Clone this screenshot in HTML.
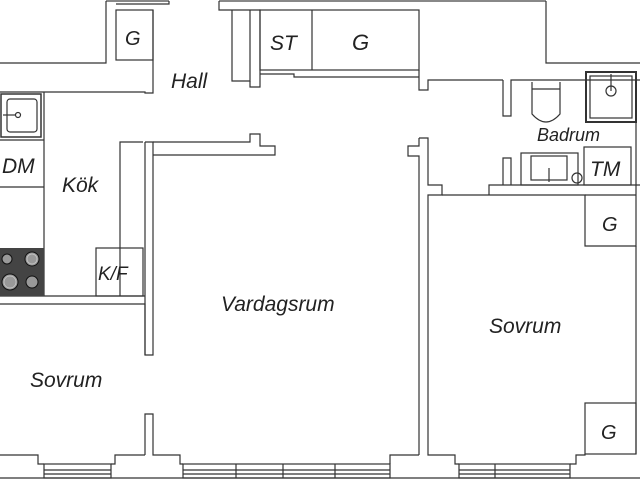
<!DOCTYPE html>
<html><head><meta charset="utf-8"><style>
html,body{margin:0;padding:0;background:#fff;}
svg{display:block}
text{font-family:"Liberation Sans",sans-serif;font-style:italic;fill:#222;}
</style></head><body>
<svg width="640" height="480" viewBox="0 0 640 480" xmlns="http://www.w3.org/2000/svg">
<g fill="none" stroke="#333" stroke-width="1.2">
<line x1="106" y1="1" x2="169" y2="1" stroke="#888" stroke-width="2"/>
<line x1="219" y1="1" x2="546" y2="1" stroke="#888" stroke-width="2"/>
<polyline points="106,1 106,63 0,63"/>
<polyline points="169,1 169,4 116,4"/>
<polyline points="219,1 219,10 250,10"/>
<rect x="116" y="10" width="37" height="50"/>
<polyline points="0,92 145,92 145,93 153,93 153,10"/>
<polyline points="546,1 546,63 640,63"/>
<polyline points="232,10 232,81 250,81 250,10"/>
<polyline points="250,10 260,10 260,87 250,87 250,81"/>
<rect x="260" y="10" width="159" height="60"/>
<line x1="312" y1="10" x2="312" y2="70"/>
<polyline points="260,74 294,74 294,77 419,77"/>
<polyline points="419,70 419,90 428,90 428,80 503,80"/>
<polyline points="503,80 503,116 511,116 511,80 640,80"/>
<rect x="586" y="72" width="50" height="50" stroke-width="2"/>
<rect x="590" y="76" width="42" height="42"/>
<circle cx="611" cy="91" r="5"/>
<line x1="611" y1="74" x2="611" y2="91"/>
<path d="M532,82 V114 Q546,130 560,114 V82"/>
<line x1="532" y1="89" x2="560" y2="89"/>
<rect x="521" y="153" width="57" height="32"/>
<rect x="531" y="156" width="36" height="24"/>
<line x1="549" y1="168" x2="549" y2="182"/>
<circle cx="577" cy="178" r="5"/>
<rect x="584" y="147" width="47" height="38"/>
<polyline points="503,185 503,158 511,158 511,185"/>
<polyline points="489,195 489,185 640,185"/>
<polyline points="442,195 585,195 585,246 636,246 636,80"/>
<line x1="585" y1="195" x2="636" y2="195"/>
<polyline points="145,142 153,142 153,355 145,355 145,142"/>
<polyline points="153,142 250,142 250,134 260,134 260,146 275,146 275,155 153,155"/>
<polyline points="419,138 428,138 428,185 442,185 442,195 428,195 428,450"/>
<polyline points="419,138 419,146 408,146 408,156 419,156 419,455"/>
<line x1="44" y1="92" x2="44" y2="296"/>
<rect x="1" y="94" width="40" height="43" stroke-width="1.5"/>
<rect x="7" y="99" width="30" height="33" rx="3"/>
<circle cx="18" cy="115" r="2.5"/>
<line x1="3" y1="115" x2="15" y2="115"/>
<line x1="0" y1="140" x2="44" y2="140"/>
<line x1="0" y1="187" x2="44" y2="187"/>
<polyline points="120,296 120,142 143,142"/>
<rect x="96" y="248" width="47" height="48"/>
<line x1="0" y1="296" x2="145" y2="296"/>
<polyline points="0,304 145,304 145,355"/>
<rect x="585" y="403" width="51" height="51"/>
<polyline points="636,246 636,454"/>
<polyline points="145,455 145,414 153,414 153,455 180,455 180,464 183,464"/>
<polyline points="0,455 38,455 38,464 44,464"/>
<polyline points="111,464 115,464 115,455 145,455"/>
<polyline points="390,464 390,455 419,455"/>
<polyline points="428,450 428,455 455,455 455,464 459,464"/>
<polyline points="570,464 576,464 576,455 585,455 585,454"/>
<line x1="0" y1="478" x2="640" y2="478"/>
<rect x="44" y="464" width="67" height="14"/>
<line x1="44" y1="470" x2="111" y2="470"/><line x1="44" y1="474" x2="111" y2="474"/>
<rect x="183" y="464" width="207" height="14"/>
<line x1="183" y1="470" x2="390" y2="470"/><line x1="183" y1="474" x2="390" y2="474"/>
<line x1="236" y1="464" x2="236" y2="478"/><line x1="283" y1="464" x2="283" y2="478"/><line x1="335" y1="464" x2="335" y2="478"/>
<rect x="459" y="464" width="111" height="14"/>
<line x1="459" y1="470" x2="570" y2="470"/><line x1="459" y1="474" x2="570" y2="474"/>
<line x1="495" y1="464" x2="495" y2="478"/>
</g>
<rect x="0" y="248" width="44" height="48" fill="#444"/>
<g fill="#999" stroke="#111" stroke-width="1">
<circle cx="7" cy="259" r="5"/><circle cx="32" cy="259" r="7"/>
<circle cx="10" cy="282" r="8"/><circle cx="32" cy="282" r="6"/>
</g>
<g fill="none" stroke="#ccc" stroke-width="0.7">
<circle cx="32" cy="259" r="5"/><circle cx="10" cy="282" r="6"/>
</g>
<g font-size="21">
<text x="125" y="45" font-size="20">G</text>
<text x="171" y="88">Hall</text>
<text x="270" y="50">ST</text>
<text x="352" y="50" font-size="22">G</text>
<text x="2" y="173">DM</text>
<text x="62" y="192">Kök</text>
<text x="98" y="280" font-size="19">K/F</text>
<text x="537" y="141" font-size="18">Badrum</text>
<text x="590" y="176">TM</text>
<text x="602" y="231" font-size="20">G</text>
<text x="221" y="311">Vardagsrum</text>
<text x="489" y="333">Sovrum</text>
<text x="30" y="387">Sovrum</text>
<text x="601" y="439" font-size="20">G</text>
</g>
</svg>
</body></html>
